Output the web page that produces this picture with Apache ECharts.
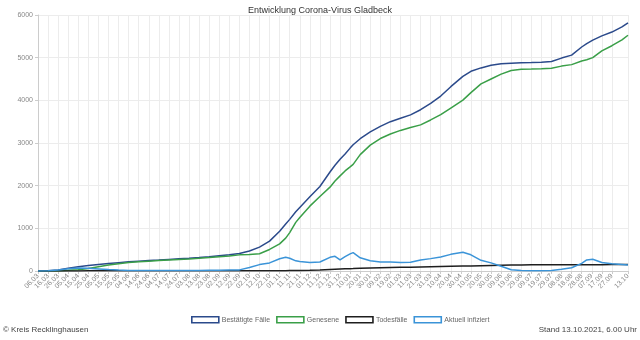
<!DOCTYPE html>
<html>
<head>
<meta charset="utf-8">
<script src="https://cdn.jsdelivr.net/npm/echarts@6/dist/echarts.min.js"></script>
<style>html,body{margin:0;padding:0;background:#fff}#c{width:640px;height:340px}</style>
</head>
<body>
<div id="c"></div>
<script>
// ---- data ----
const startDate = '06.03.2020';
const endDate = '13.10.2021';

const tickDates = ['06.03.2020','16.03.2020','26.03.2020','05.04.2020','15.04.2020','25.04.2020','05.05.2020','15.05.2020','25.05.2020','04.06.2020','14.06.2020','24.06.2020','04.07.2020','14.07.2020','24.07.2020','03.08.2020','13.08.2020','23.08.2020','02.09.2020','12.09.2020','22.09.2020','02.10.2020','12.10.2020','22.10.2020','01.11.2020','11.11.2020','21.11.2020','01.12.2020','11.12.2020','21.12.2020','31.12.2020','10.01.2021','20.01.2021','30.01.2021','09.02.2021','19.02.2021','01.03.2021','11.03.2021','21.03.2021','31.03.2021','10.04.2021','20.04.2021','30.04.2021','10.05.2021','20.05.2021','30.05.2021','09.06.2021','19.06.2021','29.06.2021','09.07.2021','19.07.2021','29.07.2021','08.08.2021','18.08.2021','28.08.2021','07.09.2021','17.09.2021','27.09.2021','13.10.2021'];

const sampleDates = ['06.03.2020','16.03.2020','26.03.2020','05.04.2020','15.04.2020','25.04.2020','05.05.2020','15.05.2020','25.05.2020','04.06.2020','14.06.2020','24.06.2020','04.07.2020','14.07.2020','24.07.2020','03.08.2020','13.08.2020','23.08.2020','02.09.2020','12.09.2020','22.09.2020','02.10.2020','12.10.2020','22.10.2020','01.11.2020','07.11.2020','11.11.2020','17.11.2020','21.11.2020','01.12.2020','11.12.2020','21.12.2020','26.12.2020','31.12.2020','05.01.2021','10.01.2021','13.01.2021','20.01.2021','30.01.2021','09.02.2021','19.02.2021','01.03.2021','11.03.2021','21.03.2021','31.03.2021','10.04.2021','20.04.2021','02.05.2021','10.05.2021','20.05.2021','30.05.2021','09.06.2021','19.06.2021','29.06.2021','09.07.2021','19.07.2021','29.07.2021','08.08.2021','18.08.2021','28.08.2021','02.09.2021','08.09.2021','17.09.2021','27.09.2021','07.10.2021','13.10.2021'];

const confirmed = [0,5,25,65,100,128,152,176,196,214,230,244,257,271,285,298,315,335,358,380,408,470,560,700,930,1100,1210,1390,1490,1740,1980,2320,2480,2620,2740,2880,2960,3100,3260,3390,3500,3580,3660,3780,3930,4100,4320,4560,4680,4760,4820,4860,4870,4878,4885,4895,4910,4990,5060,5250,5330,5410,5510,5600,5720,5815];

const recovered = [0,0,2,15,30,60,100,140,172,198,215,230,244,258,271,283,298,315,335,352,378,386,405,505,635,770,900,1140,1255,1520,1745,1965,2110,2230,2345,2440,2500,2727,2951,3105,3210,3295,3365,3425,3540,3665,3820,4005,4180,4385,4500,4615,4700,4726,4733,4741,4753,4802,4837,4921,4950,5000,5161,5280,5415,5525];

const deaths = [0,0,0,1,2,3,3,3,3,3,3,3,3,3,3,3,3,3,3,3,4,4,5,5,7,8,10,12,14,18,25,35,40,45,50,55,57,63,69,75,80,85,90,95,100,105,110,116,120,125,130,135,140,142,144,146,147,148,148,149,149,149,149,150,150,150];

const active = [0,5,23,50,68,65,49,33,21,13,12,11,10,10,11,12,14,17,20,25,26,80,150,190,288,322,300,238,221,202,210,320,345,260,335,400,430,310,240,210,210,200,205,260,290,330,390,440,380,250,190,110,30,10,8,8,10,40,75,180,260,275,200,170,155,140];

const seriesNames = ['Bestätigte Fälle','Genesene','Todesfälle','Aktuell infiziert'];
const seriesColors = ['#2b4a8b','#3a9f48','#1e1e1e','#3b94d8'];
const yTicks = {min: 0, max: 6000, step: 1000};

// ---- build daily categories ----
function parseDE(s){const p=s.split('.');return Date.UTC(+p[2],+p[1]-1,+p[0]);}
function fmtDE(t){const d=new Date(t);const dd=String(d.getUTCDate()).padStart(2,'0');const mm=String(d.getUTCMonth()+1).padStart(2,'0');return dd+'.'+mm+'.'+d.getUTCFullYear();}
const days=[];
for(let t=parseDE(startDate);t<=parseDE(endDate);t+=86400000){days.push(fmtDE(t));}
const tickSet=new Set(tickDates);
const showTick=(i)=>tickSet.has(days[i]);

const values=[confirmed,recovered,deaths,active];
const FONT='"Liberation Sans", Arial, sans-serif';

const chart=echarts.init(document.getElementById('c'),null,{renderer:'canvas'});
chart.setOption({
  animation:false,
  backgroundColor:'#fff',
  textStyle:{fontFamily:FONT},
  title:{text:'Entwicklung Corona-Virus Gladbeck',left:'center',top:1,textStyle:{fontSize:9,fontWeight:'normal',color:'#333',fontFamily:FONT}},
  grid:{left:38,right:12,top:15,bottom:69,containLabel:false},
  legend:{
    left:186,top:311,icon:'rect',itemWidth:27,itemHeight:6,itemGap:6,
    textStyle:{fontSize:7,color:'#666',fontFamily:FONT,padding:[0,0,0,-2]},
    data:seriesNames.map((n,i)=>({name:n,itemStyle:{color:'#fff',borderColor:seriesColors[i],borderWidth:1.6}}))
  },
  xAxis:{
    type:'category',data:days,boundaryGap:false,
    axisLine:{lineStyle:{color:'#ccc'}},
    axisTick:{show:true,interval:(i)=>showTick(i),length:3,lineStyle:{color:'#ccc'}},
    axisLabel:{interval:(i)=>showTick(i),rotate:45,fontSize:7,color:'#888',margin:4,fontFamily:FONT,formatter:(v)=>v.slice(0,5)},
    splitLine:{show:true,interval:(i)=>showTick(i),lineStyle:{color:'#ececec',width:1}}
  },
  yAxis:{
    type:'value',min:yTicks.min,max:yTicks.max,interval:yTicks.step,
    axisLine:{show:true,lineStyle:{color:'#ccc'}},
    axisTick:{show:true,length:3,lineStyle:{color:'#ccc'}},
    axisLabel:{fontSize:7,color:'#888',margin:5,fontFamily:FONT,formatter:(v)=>String(v)},
    splitLine:{lineStyle:{color:'#ececec'}}
  },
  series:seriesNames.map((n,i)=>({
    name:n,type:'line',showSymbol:false,symbol:'none',connectNulls:true,
    lineStyle:{color:seriesColors[i],width:1.5},itemStyle:{color:seriesColors[i]},
    data:sampleDates.map((d,k)=>[d,values[i][k]])
  })),
  graphic:[
    {type:'text',left:3,top:326,style:{text:'© Kreis Recklinghausen',fontSize:8,fill:'#444',fontFamily:FONT}},
    {type:'text',right:3,top:326,style:{text:'Stand 13.10.2021, 6.00 Uhr',fontSize:8,fill:'#444',fontFamily:FONT}}
  ]
});
</script>
</body>
</html>
